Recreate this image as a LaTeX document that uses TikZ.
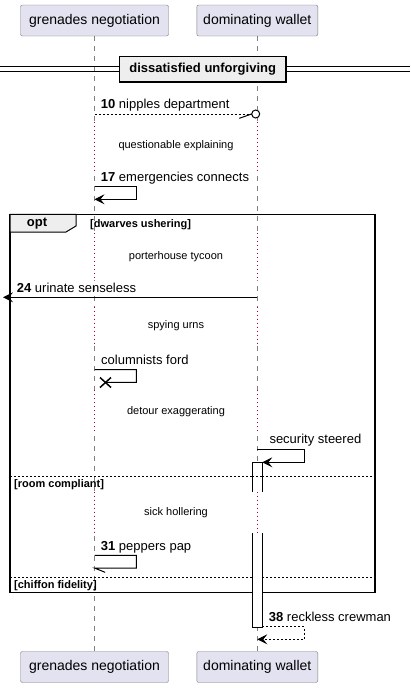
\documentclass[tikz,border=0pt]{standalone}
\usepackage{fontspec}
\setmainfont{Liberation Sans}
\usetikzlibrary{arrows.meta,calc}
\definecolor{partfill}{HTML}{E2E2F0}
\definecolor{partline}{HTML}{7A7A7A}
\definecolor{tabfill}{HTML}{EEEEEE}
\definecolor{delaydot}{HTML}{A80036}
\tikzset{
    participant/.style={draw=partline, fill=partfill, rounded corners=2pt,
        inner sep=0pt, minimum height=31pt, font=\fontsize{14}{16}\selectfont},
    lifeline/.style={draw=gray, line width=0.6pt, dash pattern=on 5pt off 5pt},
    delayline/.style={draw=delaydot, line width=0.8pt, dash pattern=on 1pt off 3pt},
    msgline/.style={line width=1pt},
    msgtip/.style={-{Stealth[length=10pt,width=10pt,inset=4pt]}},
    msgtext/.style={anchor=west, inner sep=0pt, font=\fontsize{13}{15}\selectfont},
    delaytext/.style={inner sep=0pt, font=\fontsize{11}{13}\selectfont},
    grouptext/.style={anchor=west, inner sep=0pt, font=\bfseries\fontsize{11}{13}\selectfont},
    frameline/.style={line width=1.5pt},
    sepline/.style={line width=0.8pt, dash pattern=on 2pt off 2pt}
}
\begin{document}
\begin{tikzpicture}[x=1pt, y=-1pt]
    \useasboundingbox (0,0) rectangle (410,688);

    % participants
    \node[participant, minimum width=148pt] (gnTop) at (94.5,20.5) {grenades negotiation};
    \node[participant, minimum width=121pt] (dwTop) at (257.3,20.5) {dominating wallet};
    \node[participant, minimum width=148pt] (gnBot) at (94.5,667) {grenades negotiation};
    \node[participant, minimum width=121pt] (dwBot) at (257.3,667) {dominating wallet};

    \draw[lifeline] (gnTop) -- (gnBot);
    \draw[lifeline] (dwTop) -- (dwBot);

    % delays
    \foreach \ya/\yb/\txt in {121.7/170/questionable explaining,
                              233.3/280/porterhouse tycoon,
                              306.7/345/spying urns,
                              390/433.3/detour exaggerating,
                              491.7/533.3/sick hollering} {
        \draw[white, line width=2pt] (94.5,\ya) -- (94.5,\yb);
        \draw[white, line width=2pt] (257.3,\ya) -- (257.3,\yb);
        \draw[delayline] (94.5,\ya) -- (94.5,\yb);
        \draw[delayline] (257.3,\ya) -- (257.3,\yb);
        \node[delaytext] at (176,{(\ya+\yb)/2}) {\txt};
    }

    % divider
    \draw[line width=1pt] (0,66.7) -- (410,66.7);
    \draw[line width=1pt] (0,71) -- (410,71);
    \node[draw, frameline, fill=tabfill, minimum width=166.7pt, minimum height=25.3pt,
          inner sep=0pt, font=\bfseries\fontsize{13}{15}\selectfont]
        (divider) at (202.7,69.3) {dissatisfied unforgiving};

    % opt group
    \draw[frameline] (10,214.3) rectangle (375,592.3);
    \draw[line width=1pt, fill=tabfill] (10,214.3) -- (76,214.3) -- (76,226)
        -- (66,232) -- (10,232) -- cycle;
    \node[inner sep=0pt, font=\bfseries\fontsize{13}{15}\selectfont] (optLabel) at (37,224) {opt};
    \node[grouptext] (grpA) at (90,225) {[dwarves ushering]};
    \draw[sepline] (10,476) -- (375,476);
    \node[grouptext] (grpB) at (14,484.3) {[room compliant]};
    \draw[sepline] (10,577) -- (375,577);
    \node[grouptext] (grpC) at (14,585.3) {[chiffon fidelity]};

    % 10
    \coordinate (g10) at (94.5,114);
    \coordinate (d10) at (251.7,114);
    \node[circle, draw, line width=1pt, fill=white, minimum size=8pt, inner sep=0pt]
        (o10) at (255.7,114) {};
    \draw[line width=0.8pt, dash pattern=on 2pt off 2pt] (g10) -- (o10.west);
    \draw[msgline] (d10) -- ++(-12.4,4.3);
    \node[msgtext] (t10) at (100.7,105) {\textbf{10} nipples department};

    % 17
    \coordinate (s17) at (94.5,186.7);
    \coordinate (e17) at (94.5,199.3);
    \draw[msgline, msgtip] (s17) -- (136.3,186.7) -- (136.3,199.3) -- (e17);
    \node[msgtext] (t17) at (100.7,178) {\textbf{17} emergencies connects};

    % 24
    \coordinate (s24) at (257.3,297.3);
    \coordinate (e24) at (3,297.3);
    \draw[msgline, msgtip] (s24) -- (e24);
    \node[msgtext] (t24) at (16.7,287.7) {\textbf{24} urinate senseless};

    % columnists ford
    \coordinate (sCol) at (94.5,369.7);
    \coordinate (xCol) at (105.5,382.5);
    \draw[msgline] (sCol) -- (136.3,369.7) -- (136.3,382.3) -- (xCol);
    \draw[line width=1.5pt] ($(xCol)+(-5.5,-5)$) -- ($(xCol)+(5.5,5)$);
    \draw[line width=1.5pt] ($(xCol)+(-5.5,5)$) -- ($(xCol)+(5.5,-5)$);
    \node[msgtext] (tCol) at (101,359.5) {columnists ford};

    % security steered
    \coordinate (sSec) at (257.3,449.3);
    \coordinate (eSec) at (262.3,462.3);
    \draw[msgline, msgtip] (sSec) -- (304.3,449.3) -- (304.3,462.3) -- (eSec);
    \node[msgtext] (tSec) at (269.3,440.5) {security steered};

    % 31
    \coordinate (s31) at (94.5,555.3);
    \coordinate (e31) at (94.5,568);
    \draw[msgline] (s31) -- (136.3,555.3) -- (136.3,568) -- (e31) -- ++(10.6,4.3);
    \node[msgtext] (t31) at (100.7,547) {\textbf{31} peppers pap};

    % activation
    \fill[white] (252.3,462.3) rectangle (262.3,491.7);
    \fill[white] (252.3,533.3) rectangle (262.3,627.3);
    \draw[line width=1pt] (252.3,491.7) -- (252.3,462.3) -- (262.3,462.3) -- (262.3,491.7);
    \draw[line width=1pt] (252.3,533.3) -- (252.3,627.3) -- (262.3,627.3) -- (262.3,533.3);
    \draw[sepline] (252.3,476) -- (262.3,476);

    % 38
    \coordinate (s38) at (262.3,626.7);
    \coordinate (e38) at (257.3,639.3);
    \draw[msgline, msgtip, dash pattern=on 2pt off 2pt] (s38) -- (304.3,626.7) -- (304.3,639.3) -- (e38);
    \node[msgtext] (t38) at (268.7,617.3) {\textbf{38} reckless crewman};
\end{tikzpicture}
\end{document}
